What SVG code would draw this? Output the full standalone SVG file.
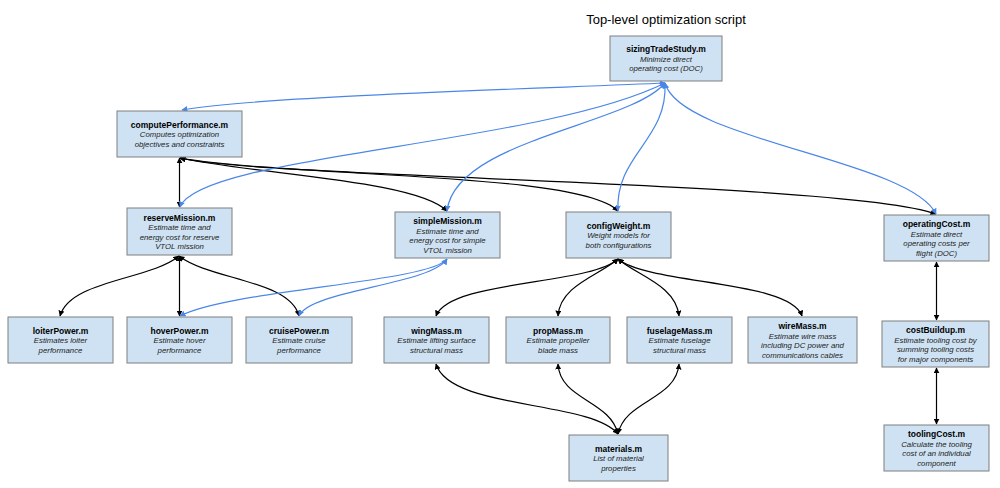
<svg xmlns="http://www.w3.org/2000/svg" width="1000" height="488" viewBox="0 0 1000 488">
<style>
.box{fill:#cfe2f3;stroke:#7f7f7f;stroke-width:1}
.t{font-family:"Liberation Sans",Arial,sans-serif;font-size:8.5px;font-weight:bold;fill:#000;text-anchor:middle}
.d{font-family:"Liberation Sans",Arial,sans-serif;font-size:7.8px;font-style:italic;fill:#222;text-anchor:middle}
.title{font-family:"Liberation Sans",Arial,sans-serif;font-size:13px;fill:#000;text-anchor:middle}
.k{fill:none;stroke:#000;stroke-width:1.2;marker-start:url(#ak);marker-end:url(#ak)}
.b{fill:none;stroke:#4a86e8;stroke-width:1.2;marker-start:url(#ab);marker-end:url(#ab)}
</style>
<defs>
<marker id="ak" viewBox="0 0 10 10" refX="9" refY="5" markerWidth="6" markerHeight="6" markerUnits="userSpaceOnUse" orient="auto-start-reverse"><path d="M0,0 L10,5 L0,10 z" fill="#000"/></marker>
<marker id="ab" viewBox="0 0 10 10" refX="9" refY="5" markerWidth="6" markerHeight="6" markerUnits="userSpaceOnUse" orient="auto-start-reverse"><path d="M0,0 L10,5 L0,10 z" fill="#4a86e8"/></marker>
</defs>
<rect width="1000" height="488" fill="#fff"/>
<text class="title" x="666" y="24">Top-level optimization script</text>

<g id="connectors">
<path class="k" d="M179.5,158 L179.5,207"/>
<path class="k" d="M180,158 C260,175 415,180 447,211"/>
<path class="k" d="M180,158 C300,178 580,172 618,211"/>
<path class="k" d="M180,158 C260,178 850,182 936,214"/>
<path class="k" d="M179,256 C150,280 70,280 60,316"/>
<path class="k" d="M179.5,256 L179.5,316"/>
<path class="k" d="M179,256 C210,280 290,280 299,316"/>
<path class="k" d="M618,259 C590,285 450,280 436,316"/>
<path class="k" d="M618,259 C600,275 560,285 558,316"/>
<path class="k" d="M618,259 C636,275 676,285 679,316"/>
<path class="k" d="M618,259 C650,285 790,280 802,316"/>
<path class="k" d="M618,434 C590,400 450,410 436,364"/>
<path class="k" d="M618,434 C610,400 560,400 558,364"/>
<path class="k" d="M618,434 C625,400 676,400 679,364"/>
<path class="k" d="M936.5,262 L936.5,320"/>
<path class="k" d="M936.5,368 L936.5,424"/>
<path class="b" d="M665,83 C560,88 260,96 182,110"/>
<path class="b" d="M665,83 C540,145 200,155 180,207"/>
<path class="b" d="M665,83 C630,125 455,140 447,211"/>
<path class="b" d="M665,83 C668,140 615,155 618,211"/>
<path class="b" d="M665,83 C680,140 910,160 936,214"/>
<path class="b" d="M447,259 C430,282 230,290 180,316"/>
<path class="b" d="M447,259 C430,285 310,290 299,316"/>
</g>

<g id="sizingTradeStudy"><rect class="box" x="610" y="36" width="112" height="45"/>
<text class="t" x="666" y="52.2">sizingTradeStudy.m</text>
<text class="d" x="666" y="61.7">Minimize direct</text>
<text class="d" x="666" y="71.2">operating cost (DOC)</text></g>

<g id="computePerformance"><rect class="box" x="117" y="111" width="125" height="46"/>
<text class="t" x="179.5" y="127.7">computePerformance.m</text>
<text class="d" x="179.5" y="137.2">Computes optimization</text>
<text class="d" x="179.5" y="146.7">objectives and constraints</text></g>

<g id="reserveMission"><rect class="box" x="127" y="208" width="105" height="47"/>
<text class="t" x="179.5" y="220.5">reserveMission.m</text>
<text class="d" x="179.5" y="230">Estimate time and</text>
<text class="d" x="179.5" y="239.5">energy cost for reserve</text>
<text class="d" x="179.5" y="249">VTOL mission</text></g>

<g id="simpleMission"><rect class="box" x="395" y="212" width="105" height="46"/>
<text class="t" x="447.5" y="224">simpleMission.m</text>
<text class="d" x="447.5" y="233.5">Estimate time and</text>
<text class="d" x="447.5" y="243">energy cost for simple</text>
<text class="d" x="447.5" y="252.5">VTOL mission</text></g>

<g id="configWeight"><rect class="box" x="566" y="212" width="105" height="46"/>
<text class="t" x="618.5" y="228.7">configWeight.m</text>
<text class="d" x="618.5" y="238.2">Weight models for</text>
<text class="d" x="618.5" y="247.7">both configurations</text></g>

<g id="operatingCost"><rect class="box" x="884" y="215" width="105" height="46"/>
<text class="t" x="936.5" y="227">operatingCost.m</text>
<text class="d" x="936.5" y="236.5">Estimate direct</text>
<text class="d" x="936.5" y="246">operating costs per</text>
<text class="d" x="936.5" y="255.5">flight (DOC)</text></g>

<g id="loiterPower"><rect class="box" x="8" y="317" width="105" height="46"/>
<text class="t" x="60.5" y="333.7">loiterPower.m</text>
<text class="d" x="60.5" y="343.2">Estimates loiter</text>
<text class="d" x="60.5" y="352.7">performance</text></g>

<g id="hoverPower"><rect class="box" x="127" y="317" width="105" height="46"/>
<text class="t" x="179.5" y="333.7">hoverPower.m</text>
<text class="d" x="179.5" y="343.2">Estimate hover</text>
<text class="d" x="179.5" y="352.7">performance</text></g>

<g id="cruisePower"><rect class="box" x="246" y="317" width="106" height="46"/>
<text class="t" x="299" y="333.7">cruisePower.m</text>
<text class="d" x="299" y="343.2">Estimate cruise</text>
<text class="d" x="299" y="352.7">performance</text></g>

<g id="wingMass"><rect class="box" x="384" y="317" width="105" height="46"/>
<text class="t" x="436.5" y="333.7">wingMass.m</text>
<text class="d" x="436.5" y="343.2">Estimate lifting surface</text>
<text class="d" x="436.5" y="352.7">structural mass</text></g>

<g id="propMass"><rect class="box" x="506" y="317" width="104" height="46"/>
<text class="t" x="558" y="333.7">propMass.m</text>
<text class="d" x="558" y="343.2">Estimate propeller</text>
<text class="d" x="558" y="352.7">blade mass</text></g>

<g id="fuselageMass"><rect class="box" x="627" y="317" width="105" height="46"/>
<text class="t" x="679.5" y="333.7">fuselageMass.m</text>
<text class="d" x="679.5" y="343.2">Estimate fuselage</text>
<text class="d" x="679.5" y="352.7">structural mass</text></g>

<g id="wireMass"><rect class="box" x="748" y="317" width="109" height="46"/>
<text class="t" x="802.5" y="329">wireMass.m</text>
<text class="d" x="802.5" y="338.5">Estimate wire mass</text>
<text class="d" x="802.5" y="348">including DC power and</text>
<text class="d" x="802.5" y="357.5">communications cables</text></g>

<g id="costBuildup"><rect class="box" x="882" y="321" width="107" height="46"/>
<text class="t" x="935.5" y="333">costBuildup.m</text>
<text class="d" x="935.5" y="342.5">Estimate tooling cost by</text>
<text class="d" x="935.5" y="352">summing tooling costs</text>
<text class="d" x="935.5" y="361.5">for major components</text></g>

<g id="materials"><rect class="box" x="569" y="435" width="99" height="46"/>
<text class="t" x="618.5" y="451.7">materials.m</text>
<text class="d" x="618.5" y="461.2">List of material</text>
<text class="d" x="618.5" y="470.7">properties</text></g>

<g id="toolingCost"><rect class="box" x="884" y="425" width="105" height="46"/>
<text class="t" x="936.5" y="437">toolingCost.m</text>
<text class="d" x="936.5" y="446.5">Calculate the tooling</text>
<text class="d" x="936.5" y="456">cost of an individual</text>
<text class="d" x="936.5" y="465.5">component</text></g>
</svg>
